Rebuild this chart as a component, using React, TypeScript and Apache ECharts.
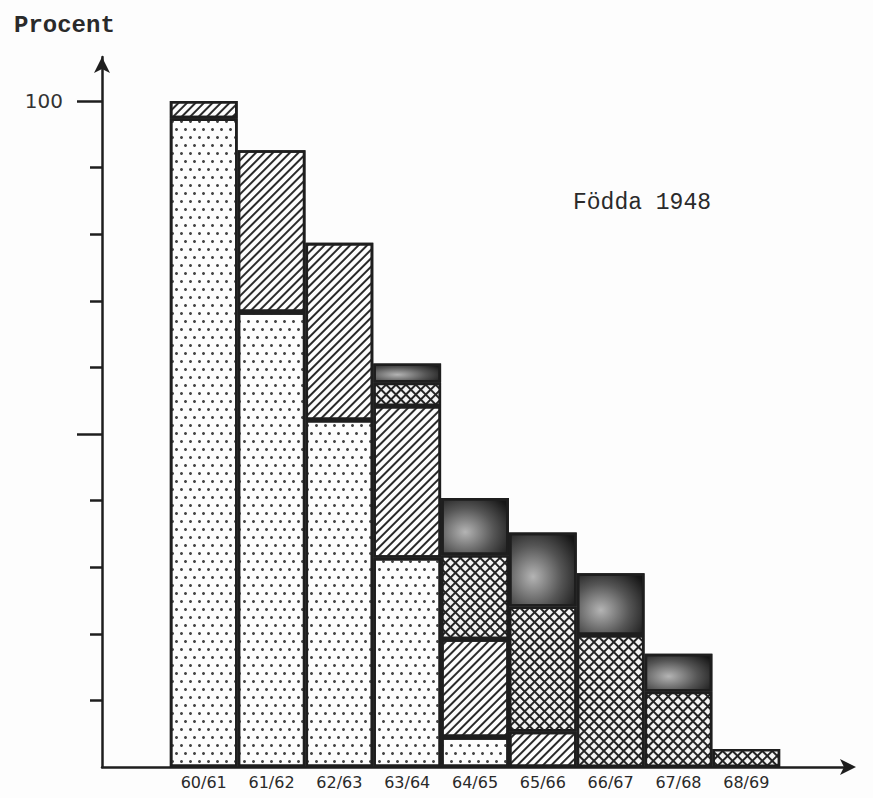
import React, { useEffect, useRef } from 'react';
import * as echarts from 'echarts';

// School years (x categories)
const categories = ['60/61', '61/62', '62/63', '63/64', '64/65', '65/66', '66/67', '67/68', '68/69'];

// Percent of those born 1948, stacked segments per school year (bottom → top)
const dotted = [97.4, 68.3, 52.1, 31.4, 4.5, null, null, null, null];
const hatched = [2.6, 24.3, 26.6, 22.8, 14.7, 5.3, null, null, null];
const crosshatch = [null, null, null, 3.5, 12.6, 18.8, 19.8, 11.3, 2.7];
const dark = [null, null, null, 2.9, 8.6, 11.1, 9.3, 5.7, null];

// Y axis ticks
const yShortTicks = [10, 20, 30, 40, 60, 70, 80, 90];
const yLongTicks = [50, 100];
const yLabels = [100];

const INK = '#1e1e1e';
const PAPER = '#fdfdfd';

export default function App() {
  const ref = useRef<HTMLDivElement>(null);

  useEffect(() => {
    const chart = echarts.init(ref.current!, null, { renderer: 'svg' });
    const xData = ['', ...categories, ''];
    const pad = (arr: (number | null)[]) => [null, ...arr, null];
    const border = { borderColor: INK, borderWidth: 2.6 };

    const barBase = {
      type: 'bar',
      stack: 'total',
      barCategoryGap: '0%',
      barWidth: '100%',
    };

    chart.setOption({
      animation: false,
      backgroundColor: PAPER,
      aria: { enabled: true, decal: { show: true } },
      title: [
        {
          text: 'Procent',
          left: 9,
          top: 8,
          textStyle: { fontFamily: 'Liberation Mono', fontSize: 24, fontWeight: 'bold', color: '#2a2a2a' },
        },
        {
          text: 'Födda 1948',
          left: 568,
          top: 186,
          textStyle: { fontFamily: 'Liberation Mono', fontSize: 23, fontWeight: 'normal', color: '#2a2a2a' },
        },
      ],
      grid: { left: 102, top: 57, right: 25, bottom: 31, containLabel: false },
      xAxis: {
        type: 'category',
        data: xData,
        boundaryGap: true,
        axisLine: {
          show: true,
          lineStyle: { color: INK, width: 2.5 },
          symbol: ['none', 'arrow'],
          symbolSize: [12, 16],
          symbolOffset: [0, 8],
        },
        axisTick: { show: false },
        axisLabel: {
          interval: 0,
          margin: 7,
          fontFamily: 'DejaVu Sans',
          fontSize: 16,
          color: '#2a2a2a',
        },
        splitLine: { show: false },
      },
      yAxis: [
        {
          type: 'value',
          min: 0,
          max: 106.6,
          interval: 10,
          position: 'left',
          axisLine: {
            show: true,
            lineStyle: { color: INK, width: 2.5 },
            symbol: ['none', 'arrow'],
            symbolSize: [12, 16],
          },
          axisTick: {
            show: true,
            length: 12,
            customValues: yShortTicks,
            lineStyle: { color: INK, width: 2.5 },
          },
          axisLabel: {
            show: true,
            customValues: yLabels,
            margin: 39,
            fontFamily: 'DejaVu Sans',
            fontSize: 20,
            color: '#333',
          },
          splitLine: { show: false },
        },
        {
          type: 'value',
          min: 0,
          max: 106.6,
          interval: 10,
          position: 'left',
          offset: 0,
          axisLine: { show: false },
          axisTick: {
            show: true,
            length: 25,
            customValues: yLongTicks,
            lineStyle: { color: INK, width: 2.5 },
          },
          axisLabel: { show: false },
          splitLine: { show: false },
        },
      ],
      series: [
        {
          ...barBase,
          name: 'dotted',
          data: pad(dotted),
          itemStyle: {
            ...border,
            color: PAPER,
            decal: {
              symbol: 'circle',
              symbolSize: 1,
              color: '#444',
              dashArrayX: [[2.4, 5.6], [0, 4, 2.4, 1.6]],
              dashArrayY: [2.4, 4.6],
              rotation: 0,
            },
          },
        },
        {
          ...barBase,
          name: 'hatched',
          data: pad(hatched),
          itemStyle: {
            ...border,
            color: PAPER,
            decal: {
              symbol: 'rect',
              symbolSize: 1,
              color: '#2a2a2a',
              dashArrayX: [1, 0],
              dashArrayY: [1.7, 4],
              rotation: -Math.PI / 4,
            },
          },
        },
        {
          ...barBase,
          name: 'crosshatch',
          data: pad(crosshatch),
          itemStyle: {
            ...border,
            color: '#242424',
            decal: {
              symbol: 'rect',
              symbolSize: 1,
              color: '#f4f4f4',
              dashArrayX: [4.2, 2],
              dashArrayY: [4.2, 2],
              rotation: Math.PI / 4,
            },
          },
        },
        {
          ...barBase,
          name: 'dark',
          data: pad(dark),
          itemStyle: {
            ...border,
            color: {
              type: 'radial',
              x: 0.35,
              y: 0.6,
              r: 0.8,
              colorStops: [
                { offset: 0, color: '#b4b4b4' },
                { offset: 0.55, color: '#555' },
                { offset: 1, color: '#161616' },
              ],
            },
            decal: { symbol: 'none' },
          },
        },
      ],
    });

    return () => chart.dispose();
  }, []);

  return <div ref={ref} style={{ position: 'fixed', left: 0, top: 0, width: 873, height: 798 }} />;
}
